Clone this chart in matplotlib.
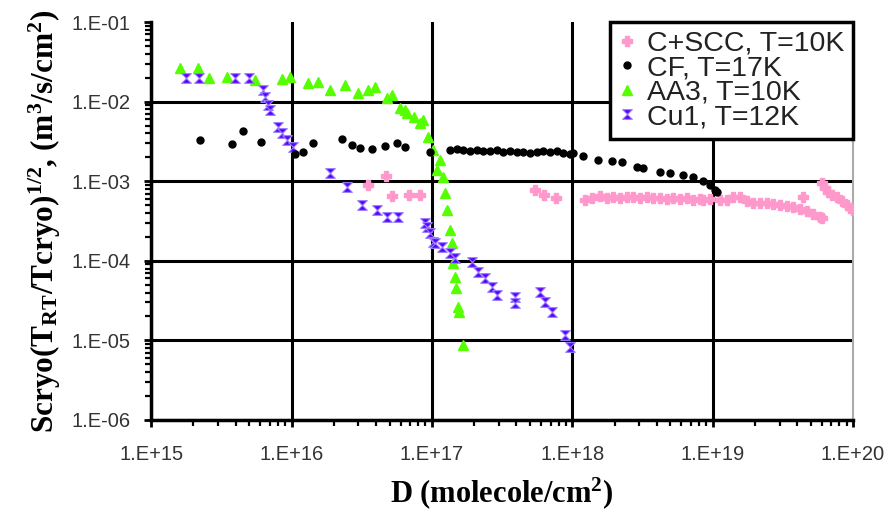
import matplotlib
matplotlib.use("Agg")
import matplotlib.pyplot as plt
from matplotlib.ticker import LogLocator, FuncFormatter, NullFormatter
import numpy as np

# C+SCC, T=10K
csc_d = [3.51e16, 4.72e16, 5.2e16, 6.88e16, 8.24e16, 5.43e17, 6.30e17, 7.67e17,
         1.23e18, 1.38e18, 1.58e18, 1.77e18, 1.95e18, 2.19e18, 2.45e18, 2.71e18,
         3.04e18, 3.41e18, 3.76e18, 4.22e18, 4.73e18, 5.22e18, 5.86e18, 6.57e18,
         7.25e18, 8.13e18, 8.55e18, 9.58e18, 1.13e19, 1.27e19, 1.40e19, 1.57e19,
         1.76e19, 1.94e19, 2.18e19, 2.44e19, 2.69e19, 3.02e19, 3.39e19, 3.74e19,
         4.19e19, 4.41e19, 4.70e19, 5.19e19, 5.82e19, 6.01e19, 6.01e19, 6.31e19,
         6.64e19, 7.08e19, 7.69e19, 8.35e19, 9.06e19, 9.52e19, 1.0e20]
csc_s = [9.04e-4, 1.17e-3, 6.57e-4, 6.76e-4, 6.76e-4, 7.82e-4, 6.76e-4, 6.20e-4,
         5.85e-4, 6.20e-4, 6.57e-4, 6.20e-4, 6.38e-4, 6.20e-4, 6.38e-4, 6.38e-4,
         6.20e-4, 6.38e-4, 6.20e-4, 6.20e-4, 6.02e-4, 6.20e-4, 6.02e-4, 6.20e-4,
         5.85e-4, 6.02e-4, 5.85e-4, 6.02e-4, 5.85e-4, 5.85e-4, 6.38e-4, 6.38e-4,
         5.69e-4, 5.37e-4, 5.37e-4, 5.37e-4, 5.21e-4, 5.06e-4, 4.92e-4, 4.78e-4,
         4.51e-4, 6.38e-4, 4.26e-4, 3.90e-4, 3.57e-4, 3.47e-4, 9.57e-4, 8.28e-4,
         7.38e-4, 6.76e-4, 6.38e-4, 5.69e-4, 5.06e-4, 4.65e-4, 4.38e-4]

# CF, T=17K
cf_d = [2.23e15, 3.78e15, 4.52e15, 6.07e15, 1.06e16, 1.21e16, 1.43e16, 2.29e16,
        2.70e16, 3.08e16, 3.75e16, 4.64e16, 5.65e16, 6.44e16, 9.7e16, 1.35e17,
        1.51e17, 1.67e17, 1.87e17, 2.10e17, 2.32e17, 2.60e17, 2.91e17, 3.21e17,
        3.61e17, 4.05e17, 4.47e17, 5.0e17, 5.61e17, 6.19e17, 6.95e17, 7.79e17,
        8.60e17, 9.64e17, 1.01e18, 1.19e18, 1.53e18, 1.92e18, 2.26e18, 2.90e18,
        3.19e18, 4.22e18, 4.97e18, 6.16e18, 7.25e18, 8.55e18, 9.58e18, 1.04e19,
        1.07e19]
cf_s = [3.33e-3, 2.96e-3, 4.32e-3, 3.14e-3, 2.22e-3, 2.35e-3, 3.05e-3, 3.43e-3,
        2.88e-3, 2.64e-3, 2.56e-3, 2.80e-3, 3.05e-3, 2.72e-3, 2.35e-3, 2.49e-3,
        2.56e-3, 2.49e-3, 2.42e-3, 2.49e-3, 2.42e-3, 2.42e-3, 2.49e-3, 2.35e-3,
        2.42e-3, 2.35e-3, 2.35e-3, 2.28e-3, 2.35e-3, 2.42e-3, 2.35e-3, 2.42e-3,
        2.28e-3, 2.22e-3, 2.28e-3, 2.09e-3, 1.86e-3, 1.81e-3, 1.76e-3, 1.52e-3,
        1.48e-3, 1.32e-3, 1.28e-3, 1.21e-3, 1.14e-3, 1.01e-3, 9.04e-4, 7.82e-4,
        7.38e-4]

# AA3, T=10K
aa3_d = [1.61e15, 2.16e15, 2.59e15, 3.48e15, 5.5e15, 8.57e15, 9.8e15, 1.31e16,
         1.55e16, 1.88e16, 2.41e16, 2.98e16, 3.51e16, 3.94e16, 4.8e16, 5.2e16,
         5.94e16, 6.44e16, 6.66e16, 7.47e16, 8.24e16, 8.66e16, 9.4e16, 1.02e17,
         1.09e17, 1.14e17, 1.20e17, 1.24e17, 1.28e17, 1.35e17, 1.39e17, 1.42e17,
         1.46e17, 1.49e17, 1.54e17, 1.56e17, 1.67e17]
aa3_s = [2.68e-2, 2.68e-2, 2.0e-2, 2.06e-2, 1.89e-2, 1.95e-2, 2.06e-2, 1.73e-2,
         1.79e-2, 1.42e-2, 1.64e-2, 1.30e-2, 1.42e-2, 1.55e-2, 1.12e-2, 1.23e-2,
         8.41e-3, 7.93e-3, 7.28e-3, 6.48e-3, 5.45e-3, 5.94e-3, 3.63e-3, 2.49e-3,
         1.40e-3, 1.86e-3, 1.14e-3, 7.17e-4, 4.38e-4, 2.45e-4, 1.68e-4, 9.44e-5,
         6.30e-5, 4.57e-5, 2.64e-5, 2.28e-5, 8.77e-6]

# Cu1, T=12K
cu1_d = [1.78e15, 2.20e15, 3.97e15, 4.99e15, 6.28e15, 6.49e15, 6.81e15, 7.04e15,
         8.03e15, 8.57e15, 9.31e15, 1.03e16, 1.88e16, 2.49e16, 3.18e16, 4.07e16,
         4.80e16, 5.74e16, 8.95e16, 9.25e16, 9.7e16, 1.02e17, 1.05e17, 1.18e17,
         1.35e17, 1.46e17, 1.93e17, 2.13e17, 2.39e17, 2.69e17, 2.91e17, 3.91e17,
         3.91e17, 5.90e17, 6.40e17, 7.18e17, 8.89e17, 9.64e17]
cu1_s = [2.0e-2, 2.0e-2, 2.0e-2, 2.0e-2, 1.42e-2, 1.16e-2, 9.17e-3, 7.93e-3,
         4.85e-3, 4.08e-3, 3.33e-3, 2.72e-3, 1.28e-3, 8.53e-4, 5.06e-4, 4.38e-4,
         3.57e-4, 3.57e-4, 3.0e-4, 2.68e-4, 2.25e-4, 1.73e-4, 1.68e-4, 1.50e-4,
         1.26e-4, 1.09e-4, 9.7e-5, 7.28e-5, 6.11e-5, 4.71e-5, 3.73e-5, 3.52e-5,
         2.96e-5, 4.07e-5, 3.05e-5, 2.28e-5, 1.17e-5, 8.28e-6]

labels = ["C+SCC, T=10K", "CF, T=17K", "AA3, T=10K", "Cu1, T=12K"]

plt.rcParams["font.family"] = ["Liberation Sans", "DejaVu Sans"]
plt.rcParams["mathtext.fontset"] = "custom"
plt.rcParams["mathtext.rm"] = "Liberation Serif:bold"
plt.rcParams["mathtext.it"] = "Liberation Serif:bold"
plt.rcParams["mathtext.bf"] = "Liberation Serif:bold"

hourglass = [(-1, 1), (1, 1), (-1, -1), (1, -1), (-1, 1)]

fig = plt.figure(figsize=(8.89, 5.15), dpi=100)
ax = fig.add_axes([0.170, 0.1845, 0.7895, 0.7725])

ax.plot(csc_d, csc_s, ls="none", marker="P", ms=7, color="#ff99cc", mec="#ff99cc", label=labels[0], zorder=3)
ax.plot(cf_d, cf_s, ls="none", marker="o", ms=5, color="black", label=labels[1], zorder=4)
ax.plot(aa3_d, aa3_s, ls="none", marker="^", ms=7, color="#55ff00", mec="#55ff00", label=labels[2], zorder=3)
ax.plot(cu1_d, cu1_s, ls="none", marker=hourglass, ms=7, color="#5a00ff", mec="#9a80ff", mew=0.8, label=labels[3], zorder=3)

ax.set_xscale("log")
ax.set_yscale("log")
ax.set_xlim(1e15, 1e20)
ax.set_ylim(1e-6, 1e-1)

ax.xaxis.set_major_locator(LogLocator(base=10, numticks=10))
ax.yaxis.set_major_locator(LogLocator(base=10, numticks=10))
ax.xaxis.set_minor_locator(LogLocator(base=10, subs=np.arange(2, 10), numticks=20))
ax.yaxis.set_minor_locator(LogLocator(base=10, subs=np.arange(2, 10), numticks=20))
fmt = FuncFormatter(lambda v, p: "1.E%+03d" % int(round(np.log10(v))))
ax.xaxis.set_major_formatter(fmt)
ax.yaxis.set_major_formatter(fmt)
ax.xaxis.set_minor_formatter(NullFormatter())
ax.yaxis.set_minor_formatter(NullFormatter())

ax.grid(True, which="major", color="black", lw=2.2)
ax.set_axisbelow(True)
ax.tick_params(which="major", direction="out", length=5, width=2, labelsize=14.5, labelcolor="#333333")
ax.tick_params(which="minor", direction="out", length=4, width=1.6)
ax.tick_params(axis="y", pad=10)
ax.tick_params(axis="x", pad=13)

# no gridline along the top edge and the right edge
fig.canvas.draw()
for tick, loc in zip(ax.yaxis.get_major_ticks(), ax.yaxis.get_majorticklocs()):
    if loc > 0.099:
        tick.gridline.set_visible(False)
for tick, loc in zip(ax.xaxis.get_major_ticks(), ax.xaxis.get_majorticklocs()):
    if loc > 0.99e20:
        tick.gridline.set_visible(False)

for s in ["left", "bottom"]:
    ax.spines[s].set_linewidth(2.5)
ax.spines["top"].set_visible(False)
ax.spines["right"].set_color("#aaaaaa")
ax.spines["right"].set_linewidth(1.5)

ax.set_xlabel(r"D (molecole/cm$^{2}$)", fontfamily="Liberation Serif", fontweight="bold", fontsize=22, labelpad=8)
ax.set_ylabel(r"Scryo(T$_{RT}$/Tcryo)$^{1/2}$, (m$^{3}$/s/cm$^{2}$)", fontfamily="Liberation Serif",
              fontweight="bold", fontsize=22.5, labelpad=6)

leg = ax.legend(loc="upper right", bbox_to_anchor=(1.0, 1.0), borderaxespad=0, fontsize=20.5,
                handlelength=0.6, handletextpad=0.4, labelspacing=-0.05, borderpad=0.3,
                fancybox=False, framealpha=1, edgecolor="black")
leg.get_frame().set_linewidth(2.5)
for t in leg.get_texts():
    t.set_color("#222222")

fig.savefig("out.png", dpi=100)
